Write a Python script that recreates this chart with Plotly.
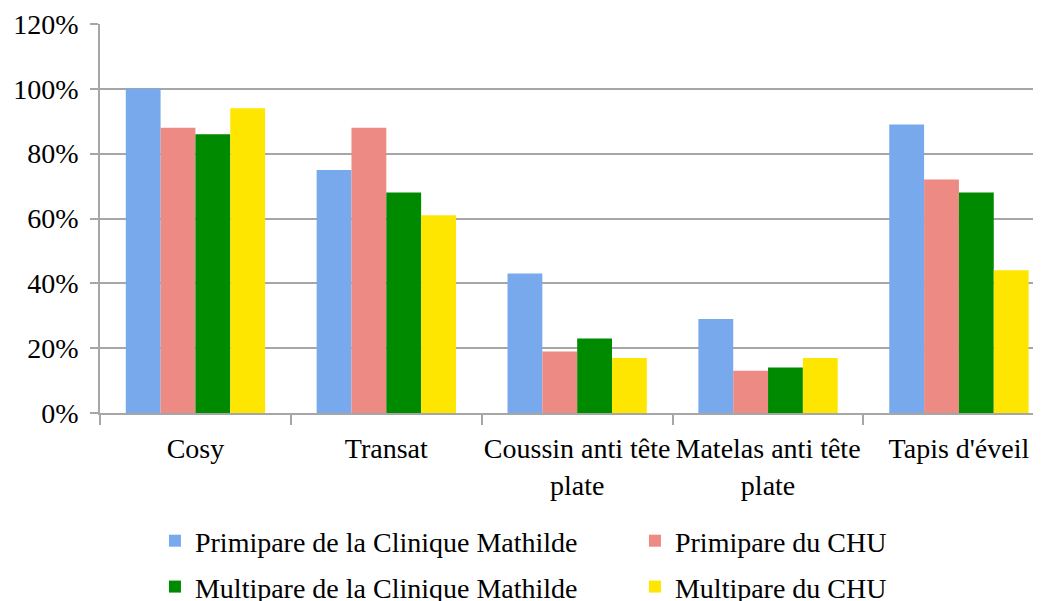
import plotly.graph_objects as go

categories = ["Cosy", "Transat", "Coussin anti tête<br>plate", "Matelas anti tête<br>plate", "Tapis d'éveil"]
series_names = ["Primipare de la Clinique Mathilde", "Primipare du CHU",
                "Multipare de la Clinique Mathilde", "Multipare du CHU"]
primi_mathilde = [1.00, 0.75, 0.43, 0.29, 0.89]
primi_chu = [0.88, 0.88, 0.19, 0.13, 0.72]
multi_mathilde = [0.86, 0.68, 0.23, 0.14, 0.68]
multi_chu = [0.94, 0.61, 0.17, 0.17, 0.44]
y_ticks = [0, 0.2, 0.4, 0.6, 0.8, 1.0, 1.2]

values = [primi_mathilde, primi_chu, multi_mathilde, multi_chu]
colors = ["#78A9EC", "#EC8A83", "#008A00", "#FFE600"]
legend_ids = ["legend", "legend2", "legend3", "legend4"]
legend_pos = [(0.0584, -0.329), (0.5685, -0.329), (0.0584, -0.447), (0.5685, -0.447)]

FONT = "Liberation Serif"

fig = go.Figure()
for name, vals, col, lg in zip(series_names, values, colors, legend_ids):
    fig.add_trace(go.Bar(x=categories, y=vals, name=name, marker=dict(color=col, line=dict(width=0)),
                         legend=lg))

layout_legends = {}
for lg, (lx, ly) in zip(legend_ids, legend_pos):
    layout_legends[lg] = dict(orientation="h", x=lx, y=ly, xanchor="left", yanchor="middle",
                              font=dict(family=FONT, size=28), itemclick=False,
                              bgcolor="rgba(0,0,0,0)")

fig.update_layout(
    width=1033, height=593,
    margin=dict(l=92, r=0, t=16, b=188, autoexpand=False),
    paper_bgcolor="white", plot_bgcolor="white",
    barmode="group", bargap=0.27, bargroupgap=0,
    font=dict(family=FONT, size=28, color="black"),
    showlegend=True,
    **layout_legends,
)
fig.update_yaxes(range=[0, 1.2], tickvals=y_ticks, tickformat=".0%",
                 showgrid=True, gridcolor="#A6A6A6", gridwidth=1.5,
                 showline=True, linecolor="#A6A6A6", linewidth=1.5,
                 ticks="outside", ticklen=8, tickcolor="#A6A6A6", tickwidth=1.5,
                 zeroline=False, ticklabelstandoff=6, automargin=False)
fig.update_xaxes(range=[-0.5, 4.43], showline=True, linecolor="#A6A6A6", linewidth=1.5,
                 ticks="outside", tickson="boundaries", ticklen=10, tickcolor="#A6A6A6", tickwidth=1.5,
                 tickangle=0, ticklabelstandoff=10, automargin=False)

fig.write_html("out.html")
